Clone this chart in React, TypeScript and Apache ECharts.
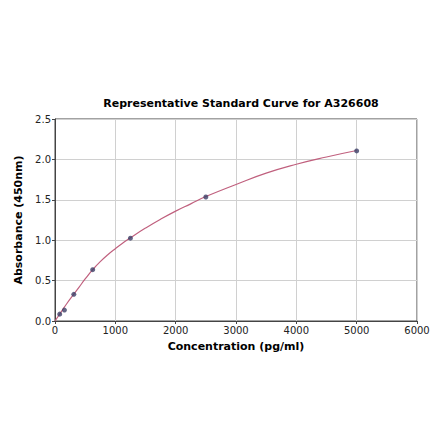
import React, { useEffect, useRef } from "react";
import * as echarts from "echarts";

const pointX = [78, 156, 312, 625, 1250, 2500, 5000];
const pointY = [0.085, 0.135, 0.33, 0.635, 1.025, 1.535, 2.105];
const curveX = [0, 100, 200, 300, 400, 500, 625, 750, 875, 1000, 1125, 1250, 1500, 1750, 2000, 2250, 2500, 3000, 3500, 4000, 4500, 5000];
const curveY = [0, 0.11, 0.22, 0.32, 0.42, 0.52, 0.635, 0.735, 0.82, 0.895, 0.965, 1.03, 1.15, 1.26, 1.36, 1.45, 1.54, 1.69, 1.83, 1.94, 2.03, 2.11];
const xTicks = [0, 1000, 2000, 3000, 4000, 5000, 6000];
const yTicks = [0, 0.5, 1, 1.5, 2, 2.5];

const FONT = "DejaVu Sans";

export default function App() {
  const ref = useRef<HTMLDivElement>(null);
  useEffect(() => {
    const chart = echarts.init(ref.current!, null, { renderer: "svg" });
    chart.setOption({
      animation: false,
      backgroundColor: "#ffffff",
      title: {
        text: "Representative Standard Curve for A326608",
        left: 236,
        textAlign: "center",
        top: 93,
        textStyle: { fontFamily: FONT, fontSize: 11, fontWeight: "bold", color: "#000" },
      },
      grid: { left: 55, right: 23, top: 119, bottom: 120, show: true, borderColor: "#444", borderWidth: 1 },
      xAxis: {
        type: "value",
        min: xTicks[0],
        max: xTicks[xTicks.length - 1],
        interval: 1000,
        name: "Concentration (pg/ml)",
        nameLocation: "middle",
        nameGap: 20,
        nameTextStyle: { fontFamily: FONT, fontSize: 11, fontWeight: "bold", color: "#000" },
        axisLine: { show: true, lineStyle: { color: "#444" } },
        axisTick: { show: true, length: 3, lineStyle: { color: "#444" } },
        axisLabel: { fontFamily: FONT, fontSize: 10, color: "#222", margin: 4, formatter: (v: number) => String(v) },
        splitLine: { show: true, lineStyle: { color: "#d0d0d0", width: 1 } },
      },
      yAxis: {
        type: "value",
        min: yTicks[0],
        max: yTicks[yTicks.length - 1],
        interval: 0.5,
        name: "Absorbance (450nm)",
        nameLocation: "middle",
        nameGap: 25,
        nameTextStyle: { fontFamily: FONT, fontSize: 11, fontWeight: "bold", color: "#000" },
        axisLine: { show: true, lineStyle: { color: "#444" } },
        axisTick: { show: true, length: 3, lineStyle: { color: "#444" } },
        axisLabel: { fontFamily: FONT, fontSize: 10, color: "#222", margin: 4, formatter: (v: number) => v.toFixed(1) },
        splitLine: { show: true, lineStyle: { color: "#d0d0d0", width: 1 } },
      },
      series: [
        {
          type: "line",
          data: curveX.map((x, i) => [x, curveY[i]]),
          smooth: true,
          showSymbol: false,
          lineStyle: { color: "#c0607e", width: 1.2 },
          z: 2,
        },
        {
          type: "scatter",
          data: pointX.map((x, i) => [x, pointY[i]]),
          symbolSize: 5,
          itemStyle: { color: "#3c3f66" },
          z: 3,
        },
      ],
    });
    return () => chart.dispose();
  }, []);
  return <div ref={ref} style={{ width: 440, height: 441, position: "absolute", left: 0, top: 0 }} />;
}
